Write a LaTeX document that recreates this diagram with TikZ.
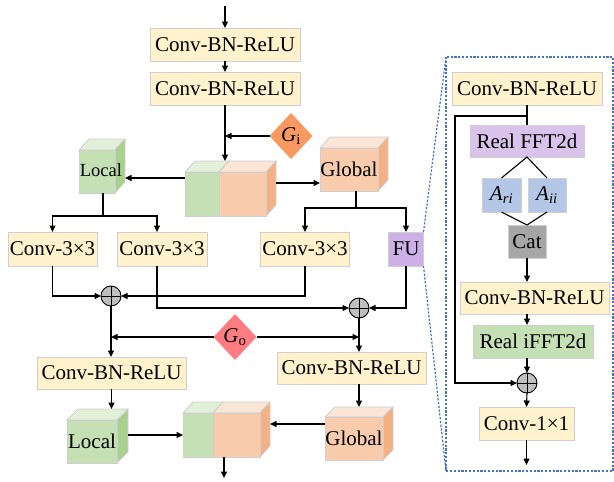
\documentclass[tikz,border=0pt]{standalone}
\usepackage{fontspec}
\setmainfont{Liberation Serif}
\usetikzlibrary{shapes.geometric,arrows.meta,calc,backgrounds}
\definecolor{convY}{HTML}{FFF2CC}
\definecolor{edgeG}{HTML}{D0CECE}
\definecolor{gFront}{HTML}{C5E0B4}
\definecolor{gTop}{HTML}{E2F0D9}
\definecolor{gSide}{HTML}{A9D18E}
\definecolor{oFront}{HTML}{F8CBAD}
\definecolor{oTop}{HTML}{FBE5D6}
\definecolor{oSide}{HTML}{F4B183}
\definecolor{giC}{HTML}{F89A5F}
\definecolor{goC}{HTML}{FF7C80}
\definecolor{fuP}{HTML}{CCB0E6}
\definecolor{fftP}{HTML}{D9C3EA}
\definecolor{aBlue}{HTML}{B4C7E7}
\definecolor{catG}{HTML}{A6A6A6}
\definecolor{plusG}{HTML}{BFBFBF}
\definecolor{dotB}{HTML}{4472C4}
\begin{document}
\begin{tikzpicture}[x=1pt,y=-1pt,
  font=\fontsize{21}{24}\selectfont,
  every node/.style={inner sep=0pt, outer sep=0pt},
  conn/.style={line width=1.1pt, black},
  arr/.style={conn, -{Triangle[length=6.5pt,width=6pt]}},
  box/.style={draw=edgeG, line width=0.8pt, fill=convY, minimum height=33},
  fbox/.style={draw=edgeG, line width=0.8pt, minimum height=33},
  gfront/.style={draw=edgeG, line width=0.8pt, fill=gFront},
  ofront/.style={draw=edgeG, line width=0.8pt, fill=oFront},
  gtop/.style={draw=edgeG, line width=0.8pt, fill=gTop},
  otop/.style={draw=edgeG, line width=0.8pt, fill=oTop},
  gside/.style={draw=edgeG, line width=0.8pt, fill=gSide},
  oside/.style={draw=edgeG, line width=0.8pt, fill=oSide},
  gdiam/.style={diamond, minimum width=43, minimum height=46},
  plus/.style={circle, draw=black, line width=0.9pt, fill=plusG, minimum size=20,
    path picture={\draw[line width=0.9pt] (path picture bounding box.north) -- (path picture bounding box.south)
      (path picture bounding box.west) -- (path picture bounding box.east);}},
  dotb/.style={dotB, line width=1.2pt, dash pattern=on 2.2pt off 1.6pt}
]
\useasboundingbox (0,0) rectangle (614,482);

% ---------- top part ----------
\coordinate (in) at (225,6);
\node[box, minimum width=150] (c1) at (225,44.5) {Conv-BN-ReLU};
\node[box, minimum width=150] (c2) at (225,88.5) {Conv-BN-ReLU};
\draw[arr] (in) -- (c1.north);
\draw[arr] (c1.south) -- (c2.north);

\node[gdiam, fill=giC] (gi) at (291,136) {\textit{G}\textsubscript{i}};

% middle cube (top)
\node[gfront, minimum width=34, minimum height=44] (mg) at (202,194) {};
\node[ofront, minimum width=47, minimum height=44] (mo) at (242.5,194) {};
\begin{pgfonlayer}{background}
\draw[gtop] (mg.north west) -- ++(10,-11) -- ++(34,0) -- (mg.north east) -- cycle;
\draw[otop] (mo.north west) -- ++(10,-11) -- ++(47,0) -- (mo.north east) -- cycle;
\draw[oside] (mo.north east) -- ++(10,-11) -- ++(0,44) -- (mo.south east) -- cycle;
\end{pgfonlayer}
\coordinate (mtop) at ($(mo.north west)+(6,-11)$);
\draw[arr] (c2.south) -- (mtop);
\draw[arr] (gi.west) -- (gi.west -| c2.south);

% local cube (top)
\node[gfront, minimum width=36, minimum height=43,
  label={[font=\fontsize{18.5}{20}\selectfont, xshift=4pt, yshift=1pt]center:Local}] (loc1) at (97,171.5) {};
\begin{pgfonlayer}{background}
\draw[gtop] (loc1.north west) -- ++(10,-11) -- ++(36,0) -- (loc1.north east) -- cycle;
\draw[gside] (loc1.north east) -- ++(10,-11) -- ++(0,43) -- (loc1.south east) -- cycle;
\end{pgfonlayer}
\draw[arr] ($(mg.north west)+(0,6)$) coordinate (a1) -- ($(loc1.north east)+(10,28)$);

% global cube (top)
\node[ofront, minimum width=58, minimum height=43] (glob1) at (349,169.5) {Global};
\begin{pgfonlayer}{background}
\draw[otop] (glob1.north west) -- ++(10,-11) -- ++(58,0) -- (glob1.north east) -- cycle;
\draw[oside] (glob1.north east) -- ++(10,-11) -- ++(0,43) -- (glob1.south east) -- cycle;
\end{pgfonlayer}
\draw[arr] ($(mo.north east)+(10,11)$) coordinate (a2) -- (a2 -| glob1.west);

% conv 3x3 row
\node[box, minimum width=89, minimum height=34] (k1) at (52.5,249) {Conv-3×3};
\node[box, minimum width=90, minimum height=34] (k2) at (162,249) {Conv-3×3};
\node[box, minimum width=89, minimum height=34] (k3) at (305,249) {Conv-3×3};
\node[fbox, fill=fuP, minimum width=35, minimum height=34] (fu) at (406,249) {FU};

\draw[conn] ($(loc1.south)+(6,0)$) -- ++(0,23) coordinate (ls);
\draw[arr] (ls) -| (k1.north);
\draw[arr] (ls) -| ($(k2.north)+(-5,0)$);
\draw[conn] ($(glob1.south)+(7,0)$) -- ++(0,17) coordinate (gs);
\draw[arr] (gs) -| (k3.north);
\draw[arr] (gs) -| (fu.north);

\node[plus] (p1) at (111,296) {};
\node[plus] (p2) at (359,308) {};
\draw[arr] (k1.south) |- (p1.west);
\draw[arr] (k3.south) |- (p1.east);
\draw[arr] ($(k2.south)+(-5,0)$) |- (p2.west);
\draw[arr] (fu.south) |- (p2.east);

\node[box, minimum width=149, minimum height=32] (b1) at (111.5,373) {Conv-BN-ReLU};
\node[box, minimum width=149, minimum height=32] (b2) at (351.5,368) {Conv-BN-ReLU};
\draw[arr] (p1.south) -- (p1.south |- b1.north);
\draw[arr] (p2.south) -- (p2.south |- b2.north);

\node[gdiam, fill=goC] (go) at (235,337) {\textit{G}\textsubscript{o}};
\draw[arr] (go.west) -- (go.west -| p1.south);
\draw[arr] (go.east) -- (go.east -| p2.south);

% bottom cubes
\node[gfront, minimum width=50, minimum height=43] (loc2) at (92,441.5) {Local};
\begin{pgfonlayer}{background}
\draw[gtop] (loc2.north west) -- ++(11,-11) -- ++(50,0) -- (loc2.north east) -- cycle;
\draw[gside] (loc2.north east) -- ++(11,-11) -- ++(0,43) -- (loc2.south east) -- cycle;
\end{pgfonlayer}
\coordinate (l2t) at ($(loc2.north)+(0,-11)$);
\draw[arr] (b1.south) -- (b1.south |- l2t);

\node[gfront, minimum width=30, minimum height=44] (mg2) at (198,435) {};
\node[ofront, minimum width=47, minimum height=44] (mo2) at (236.5,435) {};
\begin{pgfonlayer}{background}
\draw[gtop] (mg2.north west) -- ++(10,-11) -- ++(30,0) -- (mg2.north east) -- cycle;
\draw[otop] (mo2.north west) -- ++(10,-11) -- ++(47,0) -- (mo2.north east) -- cycle;
\draw[oside] (mo2.north east) -- ++(10,-11) -- ++(0,44) -- (mo2.south east) -- cycle;
\end{pgfonlayer}
\coordinate (m2s) at ($(mo2.north east)+(10,0)$);

\node[ofront, minimum width=58, minimum height=43] (glob2) at (354,438.5) {Global};
\begin{pgfonlayer}{background}
\draw[otop] (glob2.north west) -- ++(10,-10) -- ++(58,0) -- (glob2.north east) -- cycle;
\draw[oside] (glob2.north east) -- ++(10,-10) -- ++(0,43) -- (glob2.south east) -- cycle;
\end{pgfonlayer}
\coordinate (g2t) at ($(glob2.north)+(0,-10)$);
\draw[arr] (p2 |- b2.south) -- (p2 |- g2t);

\draw[arr] ($(loc2.north east)+(11,15)$) coordinate (a3) -- (a3 -| mg2.west);
\draw[arr] ($(glob2.north west)+(0,7)$) coordinate (a4) -- (a4 -| m2s);
\draw[arr] ($(mo2.south west)+(11,0)$) -- ++(0,21);

% ---------- right panel ----------
\coordinate (pnw) at (446,57);
\coordinate (pse) at (613,471);
\draw[dotb] (pnw) rectangle (pse);
\draw[dotb] (fu.north east) -- (pnw);
\draw[dotb] (fu.south east) -- (pnw |- pse);

\node[box, minimum width=150] (r1) at (527,88.5) {Conv-BN-ReLU};
\node[fbox, fill=fftP, minimum width=114, minimum height=32] (fft) at (527,141) {Real FFT2d};
\node[fbox, fill=aBlue, minimum width=39, minimum height=34] (ari) at (501.5,195) {\textit{A}\textsubscript{\textit{ri}}};
\node[fbox, fill=aBlue, minimum width=38, minimum height=34] (aii) at (547,195) {\textit{A}\textsubscript{\textit{ii}}};
\node[fbox, fill=catG, minimum width=38, minimum height=33] (cat) at (527,241.5) {Cat};
\node[box, minimum width=149, minimum height=32] (r2) at (534.5,298) {Conv-BN-ReLU};
\node[fbox, fill=gFront, minimum width=120, minimum height=33] (ifft) at (533,341.5) {Real iFFT2d};
\node[plus] (p3) at (527,383) {};
\node[box, minimum width=95, minimum height=33] (c11) at (526.5,423.5) {Conv-1×1};

\draw[conn] (r1.south) -- (fft.north);
\coordinate (br) at ($(r1.south)+(0,11)$);
\draw[arr] (br) -- ++(-72,0) |- (p3.west);
\draw[conn] (ari.north) -- (fft.south) -- (aii.north);
\draw[conn] (ari.south) -- (cat.north) -- (aii.south);
\draw[arr] (cat.south) -- (cat.south |- r2.north);
\draw[arr] (cat.south |- r2.south) -- (cat.south |- ifft.north);
\draw[arr] (cat.south |- ifft.south) -- (p3.north);
\draw[arr] (p3.south) -- (c11.north);
\draw[arr] (c11.south) -- ++(0,25);
\end{tikzpicture}
\end{document}
